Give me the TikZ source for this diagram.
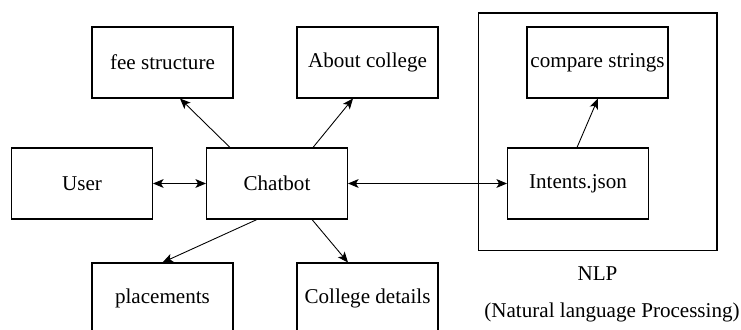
\documentclass[tikz,border=0pt]{standalone}
\usepackage{fontspec}
\setmainfont{Liberation Serif}
\usetikzlibrary{arrows.meta, calc}

\begin{document}
\begin{tikzpicture}[x=0.02cm, y=-0.02cm, font=\rmfamily\fontsize{12}{14}\selectfont,
    >={Stealth[length=6pt, width=5pt, inset=1.5pt]},
    box/.style={draw, line width=0.6pt, minimum width=2.82cm, minimum height=1.42cm, inner sep=0pt},
    link/.style={line width=0.5pt, ->}]
    \useasboundingbox (0,0) rectangle (741,330);
    \node [draw, line width=0.6pt, minimum width=4.78cm, minimum height=4.76cm] (nlp) at (597.5,132) {};
    \node [box] (fee) at (162.5,62.5) {fee structure};
    \node [box] (about) at (367.5,62.5) {About college};
    \node [box] (compare) at (597.5,62.5) {compare strings};
    \node [box] (user) at (82,183.5) {User};
    \node [box] (chatbot) at (277,183.5) {Chatbot};
    \node [box] (intents) at (578,183.5) {Intents.json};
    \node [box] (placements) at (162.5,298.5) {placements};
    \node [box] (details) at (367.5,298.5) {College details};
    \node (nlplabel) at (597.5,274) {NLP};
    \node (nlpfull) at (612,312) {(Natural language Processing)};
    \draw [link] ($(chatbot.north)+(-47,0)$) -- ($(fee.south)+(17.5,0)$);
    \draw [link] ($(chatbot.north)+(36,0)$) -- ($(about.south)+(-14.5,0)$);
    \draw [link, <->] (user.east) -- (chatbot.west);
    \draw [link, <->] (chatbot.east) -- (intents.west);
    \draw [link] ($(intents.north)+(-1,0)$) -- ($(compare.south)+(0.5,0)$);
    \draw [link] ($(chatbot.south)+(-20,0)$) -- (placements.north);
    \draw [link] ($(chatbot.south)+(35,0)$) -- ($(details.north)+(-19.5,0)$);
\end{tikzpicture}
\end{document}
